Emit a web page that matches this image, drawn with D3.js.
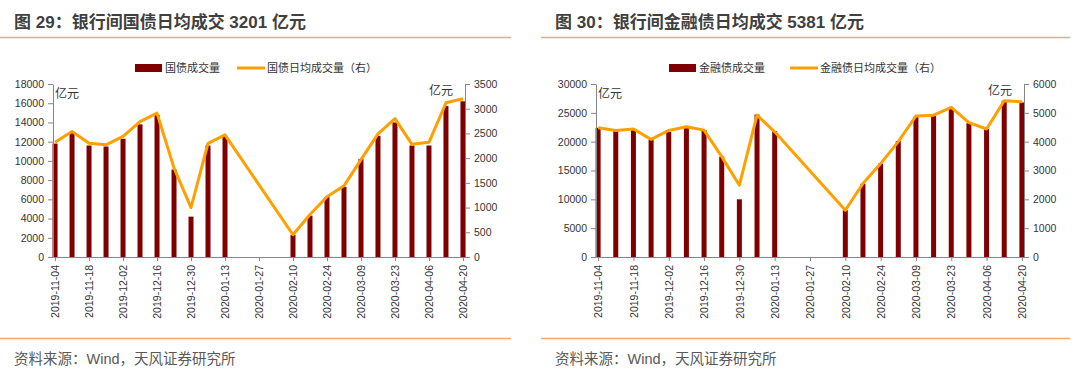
<!DOCTYPE html>
<html>
<head>
<meta charset="utf-8">
<script src="https://cdn.jsdelivr.net/npm/d3@7"></script>
<style>
  body { margin: 0; background: #fff; }
  svg { display: block; font-family: "Liberation Sans", "Noto Sans CJK SC", sans-serif; }
  .tick text { fill: #333; }
</style>
</head>
<body>
<svg id="chart" width="1080" height="381"></svg>
<script>
// weekly dates
const dates = ["2019-11-04","2019-11-11","2019-11-18","2019-11-25","2019-12-02","2019-12-09","2019-12-16",
  "2019-12-23","2019-12-30","2020-01-06","2020-01-13","2020-01-20","2020-01-27","2020-02-03","2020-02-10",
  "2020-02-17","2020-02-24","2020-03-02","2020-03-09","2020-03-16","2020-03-23","2020-03-30","2020-04-06",
  "2020-04-13","2020-04-20"]

// 国债
const gzVol = [11800,12900,11600,11500,12300,13800,14800,9100,4200,11600,12500,null,null,null,
  2300,4300,6250,7300,10200,12600,14000,11600,11600,15700,16200]
const gzAvg = [2320,2540,2300,2270,2440,2740,2910,1800,1000,2300,2470,null,null,null,
  450,860,1220,1440,1970,2490,2800,2280,2320,3120,3201]
const gzLeftTicks = [0,2000,4000,6000,8000,10000,12000,14000,16000,18000]
const gzRightTicks = [0,500,1000,1500,2000,2500,3000,3500]

// 金融债
const jrVol = [22400,22000,22200,20400,21700,22400,22000,17400,10000,24700,21800,null,null,null,
  8100,12700,16200,20100,24300,24500,25900,23200,22200,27100,26800]
const jrAvg = [4480,4390,4440,4080,4390,4520,4400,3480,2490,4920,4340,null,null,null,
  1620,2550,3240,4000,4890,4920,5190,4660,4440,5420,5381]
const jrLeftTicks = [0,5000,10000,15000,20000,25000,30000]
const jrRightTicks = [0,1000,2000,3000,4000,5000,6000]

const svg = d3.select("#chart")
const top_ = 84, bottom = 257
const barColor = "#7f0000", lineColor = "#ffa000", ruleColor = "#f4a96e", axisColor = "#868686"

function panel(o){
  const g = svg.append("g")

  // title + rules
  g.append("text").attr("x", o.ox + 14).attr("y", 28)
    .attr("font-size", 17).attr("font-weight", "bold").attr("fill", "#404040")
    .text(o.title)
  g.append("line").attr("x1", o.ox).attr("x2", o.ox + o.rw).attr("y1", 37.5).attr("y2", 37.5)
    .attr("stroke", ruleColor).attr("stroke-width", 1.5)
  g.append("line").attr("x1", o.ox).attr("x2", o.ox + o.rw).attr("y1", 338.5).attr("y2", 338.5)
    .attr("stroke", ruleColor).attr("stroke-width", 1.5)
  g.append("text").attr("x", o.ox + 14).attr("y", 364)
    .attr("font-size", 14.5).attr("fill", "#595959")
    .text("资料来源：Wind，天风证券研究所")

  const x = d3.scalePoint().domain(dates).range([o.x0, o.x1]).padding(0.12)
  const yL = d3.scaleLinear().domain([0, d3.max(o.leftTicks)]).range([bottom, top_])
  const yR = d3.scaleLinear().domain([0, d3.max(o.rightTicks)]).range([bottom, top_])

  // bars
  g.selectAll("rect.bar")
    .data(dates.map((d,i) => ({d, v: o.vol[i]})).filter(e => e.v != null))
    .enter().append("rect")
    .attr("class", "bar")
    .attr("x", e => x(e.d) - 2.5)
    .attr("width", 5)
    .attr("y", e => yL(e.v))
    .attr("height", e => bottom - yL(e.v))
    .attr("fill", barColor)

  // line (gap bridged straight)
  const pts = dates.map((d,i) => ({d, v: o.avg[i]})).filter(e => e.v != null)
  g.append("path").datum(pts)
    .attr("d", d3.line().x(e => x(e.d)).y(e => yR(e.v)))
    .attr("fill", "none").attr("stroke", lineColor).attr("stroke-width", 3)
    .attr("stroke-linejoin", "round")

  // axes
  const ax = g.append("g").attr("transform", `translate(0,${bottom})`)
    .call(d3.axisBottom(x).tickValues(dates.filter((d,i) => i % 2 == 0)).tickSize(4).tickSizeOuter(0))
  ax.selectAll("text").attr("transform", "rotate(-90)").attr("x", -8).attr("y", 0)
    .attr("dy", "0.35em").style("text-anchor", "end").attr("font-size", 10.5)

  const al = g.append("g").attr("transform", `translate(${o.x0},0)`)
    .call(d3.axisLeft(yL).tickValues(o.leftTicks).tickSize(5).tickSizeOuter(0).tickFormat(d3.format("d")))
  al.selectAll("text").attr("font-size", 10.5).attr("x", -9)

  const ar = g.append("g").attr("transform", `translate(${o.x1},0)`)
    .call(d3.axisRight(yR).tickValues(o.rightTicks).tickSize(5).tickSizeOuter(0).tickFormat(d3.format("d")))
  ar.selectAll("text").attr("font-size", 10.5).attr("x", 9)

  g.selectAll(".domain, .tick line").attr("stroke", axisColor)
  g.selectAll(".tick text").attr("font-family", "Liberation Sans, sans-serif")

  // unit labels
  g.append("text").attr("x", o.x0 + 2).attr("y", 98).attr("font-size", 12).attr("fill", "#333").text("亿元")
  g.append("text").attr("x", o.x1 - 12).attr("y", 95).attr("font-size", 12).attr("fill", "#333")
    .attr("text-anchor", "end").text("亿元")

  // legend
  const lg = g.append("g").attr("font-size", 11).attr("fill", "#333")
  lg.append("rect").attr("x", o.lx).attr("y", 64).attr("width", 27).attr("height", 8).attr("fill", barColor)
  lg.append("text").attr("x", o.lx + 30).attr("y", 72).text(o.volName)
  lg.append("line").attr("x1", o.lx2).attr("x2", o.lx2 + 28).attr("y1", 68).attr("y2", 68)
    .attr("stroke", lineColor).attr("stroke-width", 3)
  lg.append("text").attr("x", o.lx2 + 30).attr("y", 72).text(o.avgName)
}

panel({ox: 0, rw: 511, x0: 53, x1: 465, title: "图 29：银行间国债日均成交 3201 亿元",
  vol: gzVol, avg: gzAvg, leftTicks: gzLeftTicks, rightTicks: gzRightTicks,
  lx: 135, lx2: 237, volName: "国债成交量", avgName: "国债日均成交量（右）"})

panel({ox: 541, rw: 529, x0: 596, x1: 1024, title: "图 30：银行间金融债日均成交 5381 亿元",
  vol: jrVol, avg: jrAvg, leftTicks: jrLeftTicks, rightTicks: jrRightTicks,
  lx: 669, lx2: 790, volName: "金融债成交量", avgName: "金融债日均成交量（右）"})
</script>
</body>
</html>
